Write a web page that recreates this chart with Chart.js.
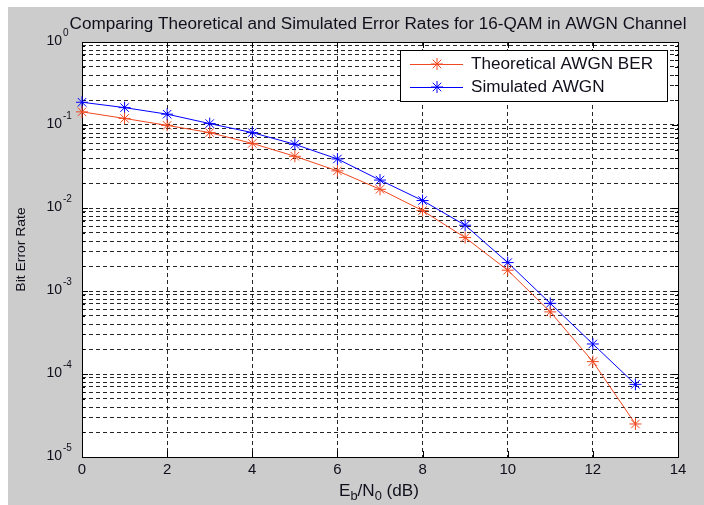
<!DOCTYPE html>
<html>
<head>
<meta charset="utf-8">
<script src="https://cdn.jsdelivr.net/npm/chart.js@4.4.1/dist/chart.umd.min.js"></script>
<style>
  html, body { margin: 0; padding: 0; background: #ffffff; }
  #chart { display: block; }
</style>
</head>
<body>
<canvas id="chart" width="704" height="505"></canvas>
<script>
const ebNo = [0, 1, 2, 3, 4, 5, 6, 7, 8, 9, 10, 11, 12, 13];
const theoreticalBer = [0.144, 0.120, 0.099, 0.081, 0.060, 0.042, 0.028, 0.0168, 0.0093, 0.0044, 0.00178, 0.00056, 0.000141, 0.000025];
const simulatedBer = [0.188, 0.162, 0.135, 0.104, 0.081, 0.0585, 0.039, 0.0217, 0.0123, 0.0062, 0.0022, 0.00071, 0.00023, 0.000075];

const xTicks = [0, 2, 4, 6, 8, 10, 12, 14];
const yDecades = [-5, -4, -3, -2, -1, 0];
const yMinorSteps = [2, 3, 4, 5, 6, 7, 8, 9];

const titleText = "Comparing Theoretical and Simulated Error Rates for 16-QAM in AWGN Channel";
const yTitleText = "Bit Error Rate";
const seriesLabels = ["Theoretical AWGN BER", "Simulated AWGN"];
const seriesColors = ["rgb(240,72,32)", "rgb(0,0,255)"];

const textColor = "#10101c";
const figureColor = "#cccccc";
const fontFamily = "Arial, 'Liberation Sans', sans-serif";
// the source screenshot is a bit wider than tall, text looks stretched
const textStretch = 1.07;

function yGridValues() {
  const values = [];
  yDecades.forEach((d) => {
    values.push(Math.pow(10, d));
    if (d < 0) {
      yMinorSteps.forEach((m) => values.push(m * Math.pow(10, d)));
    }
  });
  return values;
}

function stretchedText(ctx, text, x, y) {
  ctx.save();
  ctx.translate(x, y);
  ctx.scale(textStretch, 1);
  ctx.fillText(text, 0, 0);
  ctx.restore();
}

function drawYTickLabels(ctx, yScale, left) {
  ctx.fillStyle = textColor;
  ctx.textBaseline = "middle";
  yDecades.forEach((d) => {
    const y = yScale.getPixelForValue(Math.pow(10, d));
    ctx.font = `14px ${fontFamily}`;
    ctx.textAlign = "right";
    ctx.fillText("10", left - 20, y - 1);
    ctx.font = `10px ${fontFamily}`;
    ctx.textAlign = "left";
    ctx.fillText(String(d), left - 19, y - 9);
  });
}

function drawXTickLabels(ctx, xScale, bottom) {
  ctx.fillStyle = textColor;
  ctx.font = `14px ${fontFamily}`;
  ctx.textAlign = "center";
  ctx.textBaseline = "top";
  xTicks.forEach((t) => {
    stretchedText(ctx, String(t), xScale.getPixelForValue(t), bottom + 6);
  });
}

function drawXTitle(ctx, centerX, baseline) {
  const parts = [
    { text: "E", sub: false },
    { text: "b", sub: true },
    { text: "/N", sub: false },
    { text: "0", sub: true },
    { text: " (dB)", sub: false },
  ];
  let width = 0;
  parts.forEach((p) => {
    ctx.font = p.sub ? `12px ${fontFamily}` : `16px ${fontFamily}`;
    p.width = ctx.measureText(p.text).width * textStretch;
    width += p.width;
  });
  let x = centerX - width / 2;
  ctx.fillStyle = textColor;
  ctx.textAlign = "left";
  ctx.textBaseline = "alphabetic";
  parts.forEach((p) => {
    ctx.font = p.sub ? `12px ${fontFamily}` : `16px ${fontFamily}`;
    stretchedText(ctx, p.text, x, p.sub ? baseline + 4 : baseline);
    x += p.width;
  });
}

function drawLegend(ctx, area, datasets) {
  const boxRight = area.right - 10;
  const boxTop = area.top + 8;
  const boxWidth = 268;
  const rowHeight = 23;
  const boxLeft = boxRight - boxWidth;
  const boxHeight = rowHeight * datasets.length + 6;
  ctx.fillStyle = "#ffffff";
  ctx.fillRect(boxLeft, boxTop, boxWidth, boxHeight);
  ctx.strokeStyle = "#000000";
  ctx.lineWidth = 1;
  ctx.strokeRect(boxLeft + 0.5, boxTop + 0.5, boxWidth - 1, boxHeight - 1);

  datasets.forEach((ds, i) => {
    const y = boxTop + 14 + i * rowHeight;
    ctx.strokeStyle = ds.borderColor;
    ctx.lineWidth = 1;
    ctx.beginPath();
    ctx.moveTo(boxLeft + 10, y + 0.5);
    ctx.lineTo(boxLeft + 63, y + 0.5);
    ctx.stroke();
    Chart.helpers.drawPoint(ctx, {
      pointStyle: "star",
      radius: 6,
      borderWidth: 1,
      rotation: 0,
    }, boxLeft + 37, y);
    ctx.fillStyle = textColor;
    ctx.font = `16px ${fontFamily}`;
    ctx.textAlign = "left";
    ctx.textBaseline = "middle";
    stretchedText(ctx, ds.label, boxLeft + 71, y + 1);
  });
}

const matlabFigure = {
  id: "matlabFigure",
  beforeDraw(chart) {
    const { ctx, chartArea: a, width, height } = chart;
    ctx.save();
    ctx.fillStyle = "#ffffff";
    ctx.fillRect(0, 0, width, height);
    ctx.fillStyle = figureColor;
    ctx.fillRect(8, 7, width - 8, height - 7);
    ctx.fillStyle = "#ffffff";
    ctx.fillRect(a.left, a.top, a.right - a.left, a.bottom - a.top);
    ctx.restore();
  },
  beforeDatasetsDraw(chart) {
    const { ctx, chartArea: a, scales } = chart;
    ctx.save();
    ctx.strokeStyle = "#000000";
    ctx.lineWidth = 1;
    ctx.beginPath();
    xTicks.forEach((t) => {
      const x = Math.round(scales.x.getPixelForValue(t)) + 0.5;
      ctx.moveTo(x, a.bottom);
      ctx.lineTo(x, a.bottom - 6);
      ctx.moveTo(x, a.top);
      ctx.lineTo(x, a.top + 6);
    });
    yGridValues().forEach((v) => {
      const y = Math.round(scales.y.getPixelForValue(v)) + 0.5;
      const len = Number.isInteger(Math.log10(v)) ? 6 : 3;
      ctx.moveTo(a.left, y);
      ctx.lineTo(a.left + len, y);
      ctx.moveTo(a.right, y);
      ctx.lineTo(a.right - len, y);
    });
    ctx.stroke();
    ctx.strokeRect(Math.round(a.left) + 0.5, Math.round(a.top) + 0.5,
      Math.round(a.right - a.left), Math.round(a.bottom - a.top));
    ctx.restore();
  },
  afterDraw(chart) {
    const { ctx, chartArea: a, scales } = chart;
    ctx.save();
    ctx.fillStyle = textColor;
    ctx.font = `16px ${fontFamily}`;
    ctx.textAlign = "center";
    ctx.textBaseline = "alphabetic";
    stretchedText(ctx, titleText, (a.left + a.right) / 2 - 2, 29);

    drawYTickLabels(ctx, scales.y, a.left);
    drawXTickLabels(ctx, scales.x, a.bottom);
    drawXTitle(ctx, (a.left + a.right) / 2 - 1, 496);

    ctx.save();
    ctx.translate(25, (a.top + a.bottom) / 2);
    ctx.rotate(-Math.PI / 2);
    ctx.font = `13px ${fontFamily}`;
    ctx.textAlign = "center";
    ctx.textBaseline = "alphabetic";
    stretchedText(ctx, yTitleText, 0, 0);
    ctx.restore();

    drawLegend(ctx, a, chart.data.datasets);
    ctx.restore();
  },
};

function makeDataset(label, values, color) {
  return {
    label,
    data: ebNo.map((x, i) => ({ x, y: values[i] })),
    borderColor: color,
    backgroundColor: color,
    borderWidth: 1,
    pointStyle: "star",
    pointRadius: 6,
    pointHoverRadius: 6,
    pointBorderWidth: 1,
    pointBorderColor: color,
    tension: 0,
    clip: false,
  };
}

const gridStyle = {
  color: "rgba(0,0,0,0.85)",
  lineWidth: 1,
  drawTicks: false,
};

new Chart(document.getElementById("chart").getContext("2d"), {
  type: "line",
  data: {
    datasets: [
      makeDataset(seriesLabels[0], theoreticalBer, seriesColors[0]),
      makeDataset(seriesLabels[1], simulatedBer, seriesColors[1]),
    ],
  },
  options: {
    responsive: false,
    animation: false,
    events: [],
    layout: {
      padding: { left: 82, top: 42, right: 26, bottom: 48 },
    },
    scales: {
      x: {
        type: "linear",
        min: 0,
        max: 14,
        afterBuildTicks: (scale) => {
          scale.ticks = xTicks.map((value) => ({ value }));
        },
        ticks: { display: false },
        grid: gridStyle,
        border: { display: false, dash: [4, 3] },
      },
      y: {
        type: "logarithmic",
        min: 1e-5,
        max: 1,
        afterBuildTicks: (scale) => {
          scale.ticks = yGridValues().map((value) => ({ value }));
        },
        ticks: { display: false },
        grid: gridStyle,
        border: { display: false, dash: [4, 3] },
      },
    },
    plugins: {
      legend: { display: false },
      title: { display: false },
      tooltip: { enabled: false },
    },
  },
  plugins: [matlabFigure],
});
</script>
</body>
</html>
